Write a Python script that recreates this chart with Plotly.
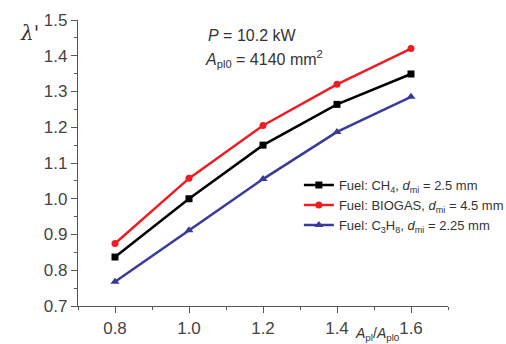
import plotly.graph_objects as go

x_vals = [0.8, 1.0, 1.2, 1.4, 1.6]
ch4 = [0.837, 1.000, 1.150, 1.264, 1.349]
biogas = [0.875, 1.057, 1.205, 1.320, 1.420]
c3h8 = [0.768, 0.912, 1.055, 1.187, 1.285]

names = [
    "Fuel: CH<sub>4</sub>, <i>d</i><sub>mi</sub> = 2.5 mm",
    "Fuel: BIOGAS, <i>d</i><sub>mi</sub> = 4.5 mm",
    "Fuel: C<sub>3</sub>H<sub>8</sub>, <i>d</i><sub>mi</sub> = 2.25 mm",
]
series = [ch4, biogas, c3h8]
colors = ["#000000", "#ee1c24", "#3a3a9a"]
symbols = ["square", "circle", "triangle-up"]
msizes = [7, 7, 8]

fig = go.Figure()
for name, ys, c, s, ms in zip(names, series, colors, symbols, msizes):
    fig.add_trace(go.Scatter(
        x=x_vals, y=ys, mode="lines+markers", name=name,
        line=dict(color=c, width=2.5),
        marker=dict(symbol=s, size=ms, color=c),
    ))

font = "Liberation Sans, Arial, sans-serif"
fig.update_layout(
    width=506, height=344,
    margin=dict(l=78, r=58, t=20, b=38, autoexpand=False),
    paper_bgcolor="white", plot_bgcolor="white",
    font=dict(family=font, color="#333333"),
    showlegend=True,
    legend=dict(
        x=0.597, y=0.475, xanchor="left", yanchor="top",
        font=dict(size=13, color="#333333"),
        bgcolor="rgba(0,0,0,0)", tracegroupgap=0,
        itemwidth=30,
    ),
    xaxis=dict(
        range=[0.7, 1.7], tickvals=[0.8, 1.0, 1.2, 1.4, 1.6],
        ticktext=["0.8", "1.0", "1.2", "1.4", "1.6"],
        showgrid=False, zeroline=False, showline=True, linecolor="#555555", linewidth=1.2,
        ticks="outside", ticklen=6, tickcolor="#555555", tickwidth=1.2,
        tickfont=dict(size=17, color="#444444"),
        minor=dict(dtick=0.1, tick0=0.7, ticks="outside", ticklen=3, tickcolor="#555555"),
    ),
    yaxis=dict(
        range=[0.7, 1.5], dtick=0.1, tick0=0.7, tickformat=".1f",
        showgrid=False, zeroline=False, showline=True, linecolor="#555555", linewidth=1.2,
        ticks="outside", ticklen=6, tickcolor="#555555", tickwidth=1.2,
        tickfont=dict(size=17, color="#444444"),
        minor=dict(dtick=0.05, tick0=0.7, ticks="outside", ticklen=3, tickcolor="#555555"),
    ),
)

fig.add_annotation(xref="paper", yref="paper", x=-0.13, y=0.955, xanchor="center", yanchor="middle",
                   text="<i>λ</i>'", showarrow=False, font=dict(size=20, color="#333333", family="DejaVu Serif, serif"))
fig.add_annotation(x=1.045, y=1.458, xref="x", yref="y", xanchor="left", yanchor="middle",
                   text="<i>P</i> = 10.2 kW", showarrow=False, font=dict(size=16, color="#333333"))
fig.add_annotation(x=1.038, y=1.39, xref="x", yref="y", xanchor="left", yanchor="middle",
                   text="<i>A</i><sub>pl0</sub> = 4140 mm<sup>2</sup>", showarrow=False, font=dict(size=16, color="#333333"))
fig.add_annotation(xref="x", yref="paper", x=1.51, y=-0.138, xanchor="center", yanchor="bottom",
                   text="<i>A</i><sub>pl</sub>/<i>A</i><sub>pl0</sub>", showarrow=False, font=dict(size=14, color="#333333"))

fig.write_html("out.html")
